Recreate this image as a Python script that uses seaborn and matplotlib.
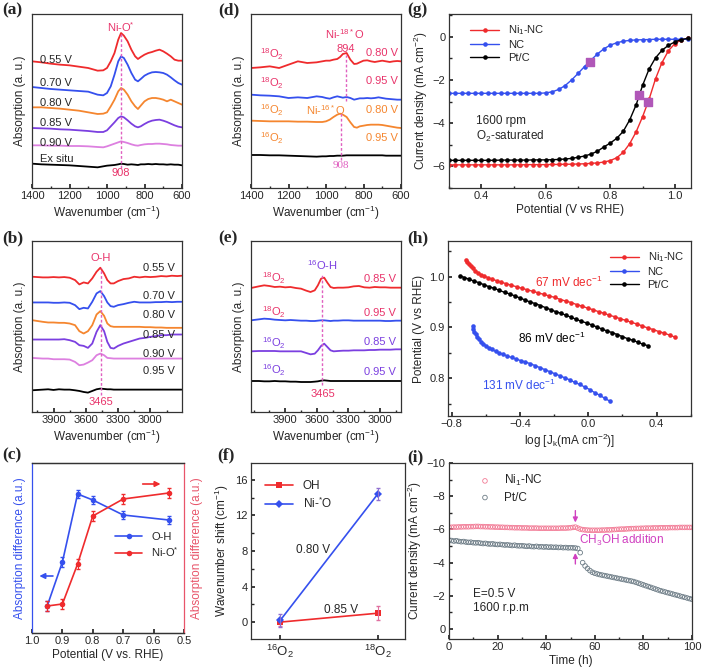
import numpy as np
import matplotlib
matplotlib.use('Agg')
import matplotlib.pyplot as plt
import seaborn as sns
from matplotlib.ticker import MultipleLocator

sns.set_theme(style='ticks')
plt.rcParams['font.family'] = ['Liberation Sans', 'DejaVu Sans']
plt.rcParams['mathtext.default'] = 'regular'
plt.rcParams['axes.linewidth'] = 0.9
plt.rcParams['axes.edgecolor'] = '#333333'
plt.rcParams['xtick.direction'] = 'in'
plt.rcParams['ytick.direction'] = 'in'
plt.rcParams['xtick.labelsize'] = 8
plt.rcParams['ytick.labelsize'] = 8
plt.rcParams['axes.labelsize'] = 8.5
plt.rcParams['xtick.major.size'] = 3
plt.rcParams['ytick.major.size'] = 3
plt.rcParams['xtick.minor.size'] = 1.8
plt.rcParams['ytick.minor.size'] = 1.8
plt.rcParams['xtick.major.pad'] = 2.5
plt.rcParams['ytick.major.pad'] = 2.5

RED = '#ef2b2d'
BLUE = '#3550ee'
ORANGE = '#f5862f'
PURPLE = '#7b3fe0'
LILAC = '#dd80e0'
CRIMSON = '#e8336a'
DASH = '#e060c0'
MAGENTA = '#d040c0'

# ---------------- data ----------------
# (a) Ni-O* region, in situ spectra at several potentials
wn_a = [1400, 1350, 1300, 1250, 1200, 1150, 1100, 1050, 1020, 1000, 980, 960, 940, 925, 910, 890,
        870, 850, 835, 820, 800, 780, 760, 740, 720, 700, 680, 660, 640, 620, 600]
a_055 = [3.80, 3.77, 3.73, 3.70, 3.68, 3.64, 3.60, 3.52, 3.53, 3.60, 3.80, 4.05, 4.45, 4.65, 4.57, 4.40,
         4.15, 3.95, 3.87, 3.93, 4.00, 4.05, 4.08, 4.12, 4.15, 4.10, 4.03, 3.95, 3.85, 3.82, 3.82]
a_070 = [3.03, 3.00, 2.97, 2.95, 2.93, 2.91, 2.89, 2.80, 2.78, 2.85, 3.05, 3.40, 3.80, 3.95, 3.90, 3.70,
         3.45, 3.25, 3.20, 3.27, 3.37, 3.43, 3.47, 3.48, 3.47, 3.45, 3.40, 3.32, 3.23, 3.15, 3.10]
a_080 = [2.42, 2.42, 2.40, 2.38, 2.35, 2.32, 2.27, 2.22, 2.23, 2.27, 2.45, 2.65, 2.90, 3.00, 2.95, 2.80,
         2.60, 2.45, 2.37, 2.47, 2.60, 2.67, 2.70, 2.70, 2.68, 2.65, 2.60, 2.65, 2.60, 2.55, 2.50]
a_085 = [1.80, 1.79, 1.78, 1.76, 1.75, 1.73, 1.71, 1.68, 1.68, 1.73, 1.85, 1.97, 2.10, 2.15, 2.12, 2.03,
         1.93, 1.85, 1.82, 1.85, 1.92, 1.98, 2.02, 2.04, 2.05, 2.02, 1.98, 1.93, 1.88, 1.84, 1.82]
a_090 = [1.28, 1.28, 1.27, 1.27, 1.26, 1.26, 1.25, 1.23, 1.22, 1.25, 1.29, 1.33, 1.37, 1.40, 1.38, 1.35,
         1.31, 1.28, 1.27, 1.29, 1.31, 1.32, 1.32, 1.33, 1.33, 1.32, 1.31, 1.29, 1.28, 1.27, 1.27]
a_ex = [0.73, 0.71, 0.70, 0.69, 0.68, 0.66, 0.64, 0.62, 0.65, 0.67, 0.68, 0.69, 0.71, 0.73, 0.72, 0.70,
        0.71, 0.70, 0.69, 0.71, 0.71, 0.72, 0.71, 0.72, 0.71, 0.71, 0.70, 0.71, 0.70, 0.70, 0.68]
a_labels = ['0.55 V', '0.70 V', '0.80 V', '0.85 V', '0.90 V', 'Ex situ']
a_label_y = [3.85, 3.15, 2.55, 1.95, 1.35, 0.87]

# (b) O-H region
wn_b = [4100, 4000, 3950, 3900, 3850, 3800, 3750, 3700, 3660, 3620, 3580, 3540, 3500, 3465, 3430, 3400,
        3370, 3340, 3300, 3250, 3200, 3150, 3100, 3050, 3000, 2950, 2900, 2850, 2800, 2750, 2710]
b_055 = [4.05, 4.03, 4.03, 4.04, 4.03, 4.04, 4.02, 3.95, 3.82, 3.88, 3.85, 4.00, 4.20, 4.32, 4.15, 3.95,
         3.85, 3.85, 3.92, 3.98, 4.00, 4.05, 4.03, 4.05, 4.04, 4.05, 4.07, 4.06, 4.08, 4.07, 4.08]
b_070 = [3.28, 3.28, 3.28, 3.27, 3.27, 3.28, 3.27, 3.20, 3.08, 3.12, 3.10, 3.30, 3.55, 3.62, 3.47, 3.28,
         3.17, 3.15, 3.20, 3.23, 3.27, 3.30, 3.28, 3.28, 3.28, 3.29, 3.29, 3.30, 3.29, 3.30, 3.30]
b_080 = [2.75, 2.70, 2.68, 2.68, 2.67, 2.67, 2.65, 2.60, 2.42, 2.35, 2.42, 2.60, 2.92, 3.02, 2.88, 2.65,
         2.57, 2.55, 2.55, 2.55, 2.55, 2.55, 2.55, 2.54, 2.54, 2.53, 2.53, 2.52, 2.52, 2.52, 2.52]
b_085 = [2.17, 2.17, 2.17, 2.17, 2.17, 2.18, 2.15, 2.10, 2.00, 1.98, 1.92, 2.05, 2.40, 2.60, 2.42, 2.10,
         1.92, 1.90, 1.98, 2.05, 2.10, 2.15, 2.20, 2.22, 2.25, 2.27, 2.30, 2.30, 2.32, 2.32, 2.32]
b_090 = [1.62, 1.60, 1.60, 1.58, 1.58, 1.58, 1.57, 1.50, 1.40, 1.42, 1.48, 1.55, 1.70, 1.75, 1.70, 1.62,
         1.61, 1.60, 1.60, 1.60, 1.60, 1.60, 1.60, 1.60, 1.60, 1.60, 1.60, 1.60, 1.60, 1.60, 1.60]
b_095 = [0.65, 0.67, 0.68, 0.66, 0.68, 0.67, 0.67, 0.65, 0.63, 0.60, 0.58, 0.63, 0.68, 0.70, 0.69, 0.68,
         0.68, 0.67, 0.67, 0.67, 0.67, 0.67, 0.67, 0.67, 0.67, 0.67, 0.67, 0.67, 0.67, 0.67, 0.67]
b_labels = ['0.55 V', '0.70 V', '0.80 V', '0.85 V', '0.90 V', '0.95 V']
b_label_y = [4.30, 3.47, 2.90, 2.32, 1.75, 1.23]

# (c) absorption difference vs potential
c_pot = [0.95, 0.90, 0.85, 0.80, 0.70, 0.55]
c_oh = [27, 71, 139, 133, 118, 113]
c_oh_err = [5, 5, 4, 4, 4, 4]
c_nio = [27, 29, 69, 117, 134, 140]
c_nio_err = [5, 5, 5, 5, 5, 5]

# (d) isotope labelling, Ni-O* region
d_18_080 = [3.60, 3.62, 3.65, 3.60, 3.70, 3.80, 3.75, 3.77, 3.80, 3.82, 3.82, 3.85, 3.87, 3.93, 4.02, 4.05,
            3.85, 3.72, 3.73, 3.77, 3.82, 3.83, 3.80, 3.78, 3.80, 3.82, 3.80, 3.78, 3.80, 3.81, 3.80]
d_18_095 = [2.80, 2.78, 2.77, 2.75, 2.70, 2.72, 2.70, 2.75, 2.73, 2.70, 2.68, 2.72, 2.75, 2.73, 2.71, 2.73,
            2.70, 2.65, 2.67, 2.69, 2.69, 2.70, 2.69, 2.70, 2.72, 2.70, 2.68, 2.67, 2.66, 2.65, 2.65]
d_16_080 = [2.02, 2.01, 2.00, 2.00, 2.00, 1.99, 1.99, 1.98, 1.98, 2.00, 2.05, 2.13, 2.20, 2.23, 2.20, 2.13,
            1.97, 1.83, 1.81, 1.85, 1.87, 1.89, 1.90, 1.90, 1.90, 1.89, 1.87, 1.85, 1.83, 1.81, 1.80]
d_16_095 = [0.99, 0.99, 0.98, 0.98, 0.97, 0.96, 0.95, 0.94, 0.95, 0.95, 0.96, 0.96, 0.97, 0.97, 0.97, 0.98,
            0.98, 0.98, 0.98, 0.98, 0.98, 0.98, 0.98, 0.98, 0.98, 0.98, 0.97, 0.97, 0.97, 0.97, 0.97]

# (e) isotope labelling, O-H region
wn_e = [4225, 4150, 4100, 4050, 4000, 3950, 3900, 3850, 3800, 3750, 3700, 3660, 3620, 3590, 3560, 3530,
        3500, 3470, 3440, 3400, 3350, 3300, 3250, 3200, 3150, 3100, 3050, 3000, 2950, 2900, 2850, 2800]
e_18_085 = [3.72, 3.77, 3.80, 3.78, 3.75, 3.76, 3.74, 3.75, 3.72, 3.70, 3.64, 3.60, 3.65, 3.80, 4.00, 4.03,
            3.88, 3.75, 3.72, 3.73, 3.73, 3.74, 3.77, 3.78, 3.74, 3.73, 3.75, 3.74, 3.74, 3.73, 3.73, 3.73]
e_18_095 = [2.75, 2.78, 2.80, 2.79, 2.77, 2.76, 2.75, 2.76, 2.75, 2.74, 2.74, 2.73, 2.73, 2.74, 2.75, 2.75,
            2.74, 2.73, 2.74, 2.74, 2.75, 2.75, 2.74, 2.74, 2.74, 2.74, 2.74, 2.74, 2.73, 2.73, 2.74, 2.74]
e_16_085 = [1.82, 1.83, 1.83, 1.83, 1.83, 1.82, 1.82, 1.82, 1.82, 1.82, 1.77, 1.73, 1.75, 1.85, 1.98, 2.05,
            1.95, 1.85, 1.82, 1.83, 1.84, 1.84, 1.85, 1.85, 1.85, 1.86, 1.86, 1.87, 1.87, 1.87, 1.88, 1.88]
e_16_095 = [0.93, 0.93, 0.92, 0.92, 0.93, 0.92, 0.92, 0.91, 0.91, 0.90, 0.90, 0.90, 0.91, 0.92, 0.94, 0.95,
            0.94, 0.93, 0.93, 0.93, 0.93, 0.93, 0.93, 0.93, 0.93, 0.93, 0.93, 0.93, 0.93, 0.93, 0.93, 0.93]

# (f) wavenumber shift
f_x = [0, 1]
f_ticklabels = ['$^{16}$O$_2$', '$^{18}$O$_2$']
f_oh = [0.0, 1.0]
f_oh_err = [0.4, 0.8]
f_nio = [0.2, 14.4]
f_nio_err = [0.7, 0.7]

# (g) LSV curves
g_pot = [0.30, 0.32, 0.34, 0.36, 0.38, 0.40, 0.42, 0.44, 0.46, 0.48, 0.50, 0.52, 0.54, 0.56, 0.58, 0.60,
         0.62, 0.64, 0.66, 0.68, 0.70, 0.72, 0.74, 0.76, 0.78, 0.80, 0.82, 0.84, 0.86, 0.88, 0.90, 0.92,
         0.94, 0.96, 0.98, 1.00, 1.02, 1.04]
g_ni = [-5.93, -5.93, -5.93, -5.93, -5.93, -5.93, -5.93, -5.93, -5.93, -5.93, -5.93, -5.93, -5.92, -5.92,
        -5.92, -5.92, -5.91, -5.91, -5.90, -5.90, -5.89, -5.88, -5.86, -5.84, -5.80, -5.73, -5.60, -5.35,
        -4.95, -4.40, -3.70, -2.90, -1.95, -1.20, -0.65, -0.32, -0.15, -0.08]
g_nc = [-2.62, -2.62, -2.62, -2.62, -2.62, -2.62, -2.62, -2.62, -2.62, -2.62, -2.62, -2.62, -2.62, -2.62,
        -2.62, -2.60, -2.55, -2.44, -2.26, -2.00, -1.70, -1.38, -1.08, -0.80, -0.56, -0.39, -0.28, -0.21,
        -0.17, -0.15, -0.14, -0.13, -0.12, -0.12, -0.12, -0.12, -0.12, -0.12]
g_pt = [-5.72, -5.72, -5.72, -5.72, -5.72, -5.72, -5.72, -5.72, -5.71, -5.71, -5.71, -5.71, -5.71, -5.70,
        -5.70, -5.70, -5.69, -5.68, -5.66, -5.63, -5.58, -5.52, -5.43, -5.30, -5.10, -4.92, -4.70, -4.38,
        -3.85, -3.15, -2.25, -1.50, -0.98, -0.63, -0.40, -0.24, -0.13, -0.08]
g_half_x = [0.736, 0.889, 0.918]
g_half_y = [-1.17, -2.72, -3.02]

# (h) Tafel plots
h_ni_x = [-0.716, -0.708, -0.699, -0.689, -0.677, -0.663, -0.647, -0.629, -0.609, -0.587, -0.563, -0.537,
          -0.509, -0.480, -0.450, -0.419, -0.388, -0.356, -0.324, -0.292, -0.260, -0.228, -0.196, -0.164,
          -0.132, -0.100, -0.068, -0.036, -0.004, 0.028, 0.060, 0.092, 0.124, 0.156, 0.188, 0.220, 0.252,
          0.284, 0.316, 0.348, 0.380, 0.412, 0.444, 0.476, 0.508]
h_ni_y = [1.033, 1.028, 1.024, 1.020, 1.016, 1.012, 1.008, 1.004, 1.001, 0.998, 0.995, 0.992, 0.989, 0.986,
          0.983, 0.980, 0.977, 0.974, 0.971, 0.968, 0.965, 0.962, 0.959, 0.955, 0.952, 0.949, 0.945, 0.942,
          0.938, 0.935, 0.931, 0.928, 0.924, 0.921, 0.917, 0.914, 0.910, 0.907, 0.903, 0.899, 0.896, 0.892,
          0.889, 0.885, 0.881]
h_pt_x = [-0.751, -0.725, -0.697, -0.668, -0.639, -0.610, -0.580, -0.550, -0.520, -0.490, -0.460, -0.430,
          -0.400, -0.370, -0.340, -0.310, -0.280, -0.250, -0.220, -0.190, -0.160, -0.130, -0.100, -0.070,
          -0.040, -0.010, 0.020, 0.050, 0.080, 0.110, 0.140, 0.170, 0.200, 0.230, 0.260, 0.290, 0.320, 0.351]
h_pt_y = [1.002, 0.998, 0.995, 0.991, 0.988, 0.984, 0.980, 0.977, 0.973, 0.969, 0.966, 0.962, 0.958, 0.954,
          0.950, 0.947, 0.943, 0.939, 0.935, 0.931, 0.928, 0.924, 0.920, 0.916, 0.912, 0.909, 0.905, 0.901,
          0.897, 0.893, 0.890, 0.886, 0.882, 0.878, 0.875, 0.871, 0.867, 0.864]
h_nc_x = [-0.677, -0.672, -0.666, -0.659, -0.650, -0.640, -0.628, -0.614, -0.599, -0.582, -0.563, -0.543,
          -0.521, -0.498, -0.474, -0.449, -0.423, -0.396, -0.368, -0.340, -0.311, -0.282, -0.253, -0.224,
          -0.195, -0.166, -0.137, -0.108, -0.079, -0.050, -0.021, 0.008, 0.037, 0.066, 0.095, 0.127]
h_nc_y = [0.902, 0.897, 0.892, 0.887, 0.882, 0.877, 0.872, 0.868, 0.864, 0.860, 0.857, 0.853, 0.850, 0.847,
          0.844, 0.841, 0.838, 0.835, 0.832, 0.829, 0.825, 0.821, 0.817, 0.813, 0.809, 0.805, 0.801, 0.797,
          0.792, 0.788, 0.783, 0.778, 0.772, 0.767, 0.761, 0.755]

# (i) chronoamperometry with methanol addition
i_t = list(range(101))
i_ni = [-6.12, -6.13, -6.14, -6.14, -6.15, -6.15, -6.16, -6.16, -6.16, -6.17,
        -6.17, -6.18, -6.18, -6.17, -6.17, -6.16, -6.16, -6.15, -6.15, -6.14,
        -6.14, -6.13, -6.13, -6.12, -6.12, -6.11, -6.11, -6.10, -6.10, -6.10,
        -6.09, -6.09, -6.09, -6.08, -6.08, -6.08, -6.08, -6.07, -6.07, -6.07,
        -6.07, -6.07, -6.07, -6.07, -6.07, -6.07, -6.08, -6.08, -6.08, -6.09,
        -6.10, -6.12, -6.14, -6.08, -6.02, -5.99, -5.97, -5.96, -5.95, -5.95,
        -5.95, -5.95, -5.95, -5.96, -5.96, -5.97, -5.97, -5.98, -5.99, -6.00,
        -6.01, -6.02, -6.02, -6.03, -6.04, -6.05, -6.05, -6.06, -6.06, -6.07,
        -6.07, -6.08, -6.08, -6.08, -6.09, -6.09, -6.09, -6.10, -6.10, -6.10,
        -6.10, -6.11, -6.11, -6.11, -6.11, -6.12, -6.12, -6.12, -6.12, -6.12, -6.12]
i_pt = [-5.36, -5.33, -5.30, -5.32, -5.28, -5.26, -5.27, -5.24, -5.22, -5.23,
        -5.20, -5.19, -5.20, -5.17, -5.15, -5.16, -5.13, -5.12, -5.13, -5.10,
        -5.09, -5.10, -5.08, -5.06, -5.07, -5.05, -5.03, -5.05, -5.02, -5.01,
        -5.02, -5.00, -4.98, -5.00, -4.97, -4.96, -4.98, -4.95, -4.96, -4.94,
        -4.95, -4.93, -4.94, -4.92, -4.93, -4.91, -4.92, -4.90, -4.91, -4.89,
        -4.90, -4.89, -4.88, -4.85, -4.60, -4.00, -3.80, -3.65, -3.52, -3.42,
        -3.36, -3.32, -3.28, -3.25, -3.22, -3.19, -3.16, -3.13, -3.10, -3.07,
        -3.04, -3.01, -2.98, -2.95, -2.92, -2.89, -2.86, -2.81, -2.76, -2.71,
        -2.66, -2.61, -2.56, -2.51, -2.46, -2.41, -2.36, -2.31, -2.27, -2.23,
        -2.19, -2.15, -2.11, -2.07, -2.03, -1.99, -1.95, -1.91, -1.87, -1.83, -1.79]


W, H = 703, 672
fig = plt.figure(figsize=(W / 100, H / 100), dpi=100)


def box(x0, y0, x1, y1):
    # pixel box (top-left origin) -> axes
    return fig.add_axes([x0 / W, 1 - y1 / H, (x1 - x0) / W, (y1 - y0) / H])


def curve(ax, x, y, color):
    sns.lineplot(x=x, y=y, ax=ax, color=color, lw=1.3, legend=False)


def vdash(ax, x, y0, y1):
    ax.plot([x, x], [y0, y1], color=DASH, lw=1.0, ls=(0, (2, 1.5)))


ax_a = box(32, 14, 182, 188)
ax_b = box(32, 241, 182, 412)
ax_c = box(32, 463, 184, 633)
ax_d = box(251, 14, 401, 188)
ax_e = box(251, 241, 401, 412)
ax_f = box(251, 463, 405, 639)
ax_g = box(449, 14, 691, 188)
ax_h = box(448, 241, 691, 416)
ax_i = box(449, 463, 692, 639)

# ---- (a)
for y, c in zip([a_055, a_070, a_080, a_085, a_090, a_ex], [RED, BLUE, ORANGE, PURPLE, LILAC, 'black']):
    curve(ax_a, wn_a, y, c)
for lab, yy in zip(a_labels, a_label_y):
    ax_a.text(1355, yy, lab, fontsize=8, va='center', ha='left')
vdash(ax_a, 925, 0.6, 4.62)
ax_a.text(925, 4.82, 'Ni-O$^{*}$', color=CRIMSON, fontsize=8, ha='center', va='center')
ax_a.text(925, 0.45, '908', color=CRIMSON, fontsize=8, ha='center', va='center')
ax_a.set_xlim(1400, 600)
ax_a.set_ylim(0, 5.22)
ax_a.xaxis.set_major_locator(MultipleLocator(200))
ax_a.xaxis.set_minor_locator(MultipleLocator(100))

# ---- (b)
for y, c in zip([b_055, b_070, b_080, b_085, b_090, b_095], [RED, BLUE, ORANGE, PURPLE, LILAC, 'black']):
    curve(ax_b, wn_b, y, c)
for lab, yy in zip(b_labels, b_label_y):
    ax_b.text(2775, yy, lab, fontsize=8, va='center', ha='right')
vdash(ax_b, 3460, 0.5, 4.32)
ax_b.text(3460, 4.6, 'O-H', color=CRIMSON, fontsize=8, ha='center', va='center')
ax_b.text(3460, 0.3, '3465', color=CRIMSON, fontsize=8, ha='center', va='center')
ax_b.set_xlim(4100, 2706)
ax_b.set_ylim(0, 5.12)
ax_b.xaxis.set_major_locator(MultipleLocator(300))
ax_b.xaxis.set_minor_locator(MultipleLocator(150))

for ax in [ax_a, ax_b, ax_d, ax_e]:
    ax.set_yticks([])
    ax.set_ylabel('Absorption (a. u.)', labelpad=4)
    ax.set_xlabel('Wavenumber (cm$^{-1}$)', labelpad=1.5)

# ---- (c)
ax_c2 = ax_c.twinx()
sns.lineplot(x=c_pot, y=c_oh, ax=ax_c, color=BLUE, marker='o', markersize=4, markeredgewidth=0,
             lw=1.2, label='O-H')
ax_c.errorbar(c_pot, c_oh, yerr=c_oh_err, fmt='none', ecolor=BLUE, elinewidth=0.8, capsize=1.5)
sns.lineplot(x=c_pot, y=c_nio, ax=ax_c2, color=RED, marker='o', markersize=4, markeredgewidth=0,
             lw=1.2, label='Ni-O$^{*}$')
ax_c2.errorbar(c_pot, c_nio, yerr=c_nio_err, fmt='none', ecolor=RED, elinewidth=0.8, capsize=1.5)
h1, l1 = ax_c.get_legend_handles_labels()
h2, l2 = ax_c2.get_legend_handles_labels()
ax_c2.get_legend().remove()
ax_c.legend(h1 + h2, l1 + l2, loc='upper left', bbox_to_anchor=(0.52, 0.62), frameon=False,
            fontsize=8, handlelength=2.4, labelspacing=0.3, borderaxespad=0)
for ax in [ax_c, ax_c2]:
    ax.set_xlim(1.0, 0.5)
    ax.set_ylim(0, 170)
    ax.set_yticks([])
ax_c.annotate('', xy=(0.985, 57), xytext=(0.922, 57),
              arrowprops=dict(arrowstyle='-|>', color=BLUE, lw=1.2, mutation_scale=8))
ax_c2.annotate('', xy=(0.568, 149), xytext=(0.645, 149),
               arrowprops=dict(arrowstyle='-|>', color=RED, lw=1.2, mutation_scale=8))
ax_c.set_xticks([1.0, 0.9, 0.8, 0.7, 0.6, 0.5])
ax_c.set_xticklabels(['1.0', '0.9', '0.8', '0.7', '0.6', '0.5'])
ax_c.set_xlabel('Potential (V vs. RHE)', labelpad=1.5)
ax_c.set_ylabel('Absorption difference (a.u.)', color=BLUE, labelpad=4)
ax_c2.set_ylabel('Absorption difference (a.u.)', color='#e8556a', labelpad=5)
ax_c.spines['left'].set_color(BLUE)
ax_c.spines['right'].set_visible(False)
ax_c2.spines['left'].set_visible(False)
ax_c2.spines['right'].set_color('#e8556a')

# ---- (d)
for y, c in zip([d_18_080, d_18_095, d_16_080, d_16_095], [RED, BLUE, ORANGE, 'black']):
    curve(ax_d, wn_a, y, c)
for yy, c in zip([4.0, 3.15], [CRIMSON, CRIMSON]):
    ax_d.text(1290, yy, '$^{18}$O$_2$', color=c, fontsize=8, ha='center', va='center')
for yy in [2.32, 1.5]:
    ax_d.text(1290, yy, '$^{16}$O$_2$', color=ORANGE, fontsize=8, ha='center', va='center')
for lab, yy, c in zip(['0.80 V', '0.95 V', '0.80 V', '0.95 V'], [4.05, 3.2, 2.35, 1.5],
                      [CRIMSON, CRIMSON, ORANGE, ORANGE]):
    ax_d.text(700, yy, lab, color=c, fontsize=8, ha='center', va='center')
vdash(ax_d, 894, 2.62, 3.98)
ax_d.text(900, 4.62, 'Ni-$^{18*}$O', color=CRIMSON, fontsize=8, ha='center', va='center')
ax_d.text(894, 4.18, '894', color=CRIMSON, fontsize=8, ha='center', va='center')
vdash(ax_d, 920, 0.85, 2.25)
ax_d.text(1000, 2.35, 'Ni-$^{16*}$O', color=ORANGE, fontsize=8, ha='center', va='center')
ax_d.text(920, 0.66, '908', color=DASH, fontsize=8, ha='center', va='center',
          family=['Liberation Serif', 'DejaVu Serif'])
ax_d.set_xlim(1400, 600)
ax_d.set_ylim(0, 5.22)
ax_d.xaxis.set_major_locator(MultipleLocator(200))
ax_d.xaxis.set_minor_locator(MultipleLocator(100))

# ---- (e)
for y, c in zip([e_18_085, e_18_095, e_16_085, e_16_095], [RED, BLUE, PURPLE, 'black']):
    curve(ax_e, wn_e, y, c)
for yy in [4.0, 2.98]:
    ax_e.text(4010, yy, '$^{18}$O$_2$', color=CRIMSON, fontsize=8, ha='center', va='center')
for yy in [2.05, 1.25]:
    ax_e.text(4010, yy, '$^{16}$O$_2$', color=PURPLE, fontsize=8, ha='center', va='center')
for lab, yy, c in zip(['0.85 V', '0.95 V', '0.85 V', '0.95 V'], [4.0, 2.98, 2.1, 1.2],
                      [CRIMSON, CRIMSON, PURPLE, PURPLE]):
    ax_e.text(3000, yy, lab, color=c, fontsize=8, ha='center', va='center')
vdash(ax_e, 3553, 0.8, 4.1)
ax_e.text(3553, 4.42, '$^{16}$O-H', color=PURPLE, fontsize=8, ha='center', va='center')
ax_e.text(3540, 0.55, '3465', color=CRIMSON, fontsize=8, ha='center', va='center')
ax_e.set_xlim(4225, 2801)
ax_e.set_ylim(0, 5.13)
ax_e.set_xticks([3900, 3600, 3300, 3000])
ax_e.xaxis.set_minor_locator(MultipleLocator(150))

# ---- (f)
sns.lineplot(x=f_x, y=f_oh, ax=ax_f, color=RED, marker='s', markersize=4.5, markeredgewidth=0,
             lw=1.2, label='OH')
ax_f.errorbar(f_x, f_oh, yerr=f_oh_err, fmt='none', ecolor='#e070a0', elinewidth=0.8, capsize=1.5)
sns.lineplot(x=f_x, y=f_nio, ax=ax_f, color=BLUE, marker='D', markersize=4, markeredgewidth=0,
             lw=1.2, label='Ni-$^{*}$O')
ax_f.errorbar(f_x, f_nio, yerr=f_nio_err, fmt='none', ecolor='#9070d0', elinewidth=0.8, capsize=1.5)
ax_f.legend(loc='upper left', bbox_to_anchor=(0.06, 0.93), frameon=False, fontsize=8.5,
            handlelength=2.4, labelspacing=0.35, borderaxespad=0)
ax_f.text(0.34, 8.1, '0.80 V', fontsize=8.5, ha='center', va='center')
ax_f.text(0.62, 1.35, '0.85 V', fontsize=8.5, ha='center', va='center')
ax_f.set_xlim(-0.3, 1.28)
ax_f.set_ylim(-1.9, 17.9)
ax_f.set_xticks(f_x)
ax_f.set_xticklabels(f_ticklabels, fontsize=9.5)
ax_f.set_yticks([0, 4, 8, 12, 16])
ax_f.yaxis.set_minor_locator(MultipleLocator(2))
ax_f.set_ylabel('Wavenumber shift (cm$^{-1}$)', labelpad=3)

# ---- (g)
for y, c, lab in zip([g_ni, g_nc, g_pt], [RED, BLUE, 'black'], ['Ni$_1$-NC', 'NC', 'Pt/C']):
    sns.lineplot(x=g_pot, y=y, ax=ax_g, color=c, marker='o', markersize=3.3, markeredgewidth=0,
                 lw=1.0, label=lab)
ax_g.scatter(g_half_x, g_half_y, marker='s', s=30, color='#b057b8', zorder=5)
ax_g.legend(loc='upper left', bbox_to_anchor=(0.07, 0.97), frameon=False, fontsize=8,
            handlelength=2.6, labelspacing=0.25, borderaxespad=0)
ax_g.text(0.385, -3.9, '1600 rpm', fontsize=8.5, va='center')
ax_g.text(0.385, -4.6, 'O$_2$-saturated', fontsize=8.5, va='center')
ax_g.set_xlim(0.3, 1.05)
ax_g.set_ylim(-7, 1.05)
ax_g.set_xticks([0.4, 0.6, 0.8, 1.0])
ax_g.xaxis.set_minor_locator(MultipleLocator(0.1))
ax_g.set_yticks([0, -2, -4, -6])
ax_g.yaxis.set_minor_locator(MultipleLocator(1))
ax_g.set_xlabel('Potential (V vs RHE)', labelpad=1.5)
ax_g.set_ylabel('Current density (mA cm$^{-2}$)', labelpad=2)

# ---- (h)
for x, y, c, lab in zip([h_ni_x, h_nc_x, h_pt_x], [h_ni_y, h_nc_y, h_pt_y], [RED, BLUE, 'black'],
                        ['Ni$_1$-NC', 'NC', 'Pt/C']):
    sns.lineplot(x=x, y=y, ax=ax_h, color=c, marker='o', markersize=3.3, markeredgewidth=0,
                 lw=1.0, label=lab)
ax_h.legend(loc='upper right', bbox_to_anchor=(0.99, 0.97), frameon=False, fontsize=8,
            handlelength=2.6, labelspacing=0.25, borderaxespad=0)
ax_h.text(-0.31, 0.989, '67 mV dec$^{-1}$', color=RED, fontsize=8.5, va='center')
ax_h.text(-0.41, 0.879, '86 mV dec$^{-1}$', color='black', fontsize=8.5, va='center')
ax_h.text(-0.62, 0.787, '131 mV dec$^{-1}$', color=BLUE, fontsize=8.5, va='center')
ax_h.set_xlim(-0.821, 0.601)
ax_h.set_ylim(0.726, 1.07)
ax_h.set_xticks([-0.8, -0.4, 0.0, 0.4])
ax_h.xaxis.set_minor_locator(MultipleLocator(0.2))
ax_h.set_yticks([0.8, 0.9, 1.0])
ax_h.yaxis.set_minor_locator(MultipleLocator(0.05))
ax_h.set_xlabel('log [J$_k$(mA cm$^{-2}$)]', labelpad=1.5)
ax_h.set_ylabel('Potential (V vs RHE)', labelpad=3)

# ---- (i)
sns.scatterplot(x=i_t, y=i_ni, ax=ax_i, marker='o', s=11, facecolor='none', edgecolor='#f27a95',
                linewidth=0.6, label='Ni$_1$-NC')
sns.scatterplot(x=i_t, y=i_pt, ax=ax_i, marker='o', s=11, facecolor='none', edgecolor='#6d7c86',
                linewidth=0.6, label='Pt/C')
ax_i.legend(loc='upper left', bbox_to_anchor=(0.08, 0.97), frameon=False, fontsize=8.5,
            handletextpad=0.6, labelspacing=0.3, borderaxespad=0)
ax_i.annotate('', xy=(52, -6.25), xytext=(52, -7.3),
              arrowprops=dict(arrowstyle='-|>', color=MAGENTA, lw=1.0, mutation_scale=7))
ax_i.annotate('', xy=(52, -4.75), xytext=(52, -3.75),
              arrowprops=dict(arrowstyle='-|>', color=MAGENTA, lw=1.0, mutation_scale=7))
ax_i.text(53.5, -5.35, 'CH$_3$OH addition', color=MAGENTA, fontsize=8.5, va='center')
ax_i.text(10, -2.12, 'E=0.5 V', fontsize=8.5, va='center')
ax_i.text(10, -1.26, '1600 r.p.m', fontsize=8.5, va='center')
ax_i.set_xlim(0, 100)
ax_i.set_ylim(0.6, -10)
ax_i.set_xticks([0, 20, 40, 60, 80, 100])
ax_i.xaxis.set_minor_locator(MultipleLocator(10))
ax_i.set_yticks([0, -2, -4, -6, -8, -10])
ax_i.yaxis.set_minor_locator(MultipleLocator(1))
ax_i.set_xlabel('Time (h)', labelpad=1.5)
ax_i.set_ylabel('Current density (mA cm$^{-2}$)', labelpad=2)

for ax in [ax_a, ax_b, ax_c, ax_d, ax_e, ax_f, ax_g, ax_h, ax_i]:
    ax.tick_params(which='both', top=False, right=False)

# panel letters
for lab, x, y in [('(a)', 2, 10), ('(b)', 2, 238), ('(c)', 2, 455), ('(d)', 218, 10), ('(e)', 218, 238),
                  ('(f)', 217, 455), ('(g)', 407, 10), ('(h)', 407, 238), ('(i)', 407, 457)]:
    fig.text(x / W, 1 - y / H, lab, fontsize=12.5, fontweight='bold', va='center', ha='left',
             family=['Liberation Serif', 'DejaVu Serif'])

fig.savefig('out.png', dpi=100)
